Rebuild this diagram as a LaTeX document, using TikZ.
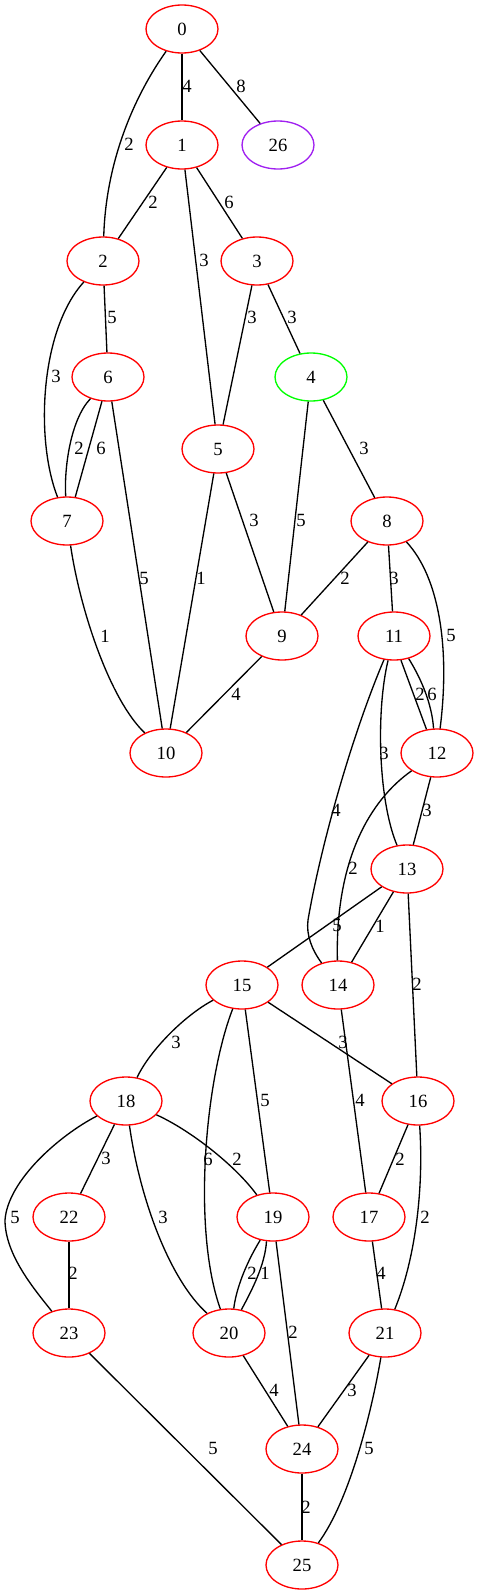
\documentclass[tikz,border=0pt]{standalone}
\usepackage{fontspec}
\setmainfont{Liberation Serif}
\usetikzlibrary{shapes.geometric}
\definecolor{gvred}{HTML}{FF0000}
\definecolor{gvgreen}{HTML}{00FF00}
\definecolor{gvpurple}{HTML}{A020F0}
\tikzset{
  vtx/.style={ellipse, draw=gvred, line width=1.33pt, minimum width=72pt, minimum height=48pt, inner sep=0pt, font=\fontsize{18.67}{20}\selectfont},
  lbl/.style={inner sep=0pt, font=\fontsize{18.67}{20}\selectfont},
  edge/.style={draw=black, line width=1.33pt}
}
\begin{document}
\begin{tikzpicture}[x=1pt,y=-1pt]
\useasboundingbox (0,0) rectangle (478,1595);
% nodes
\node[vtx] (n0) at (182,29) {0};
\node[vtx] (n1) at (182,145) {1};
\node[vtx, draw=gvpurple] (n26) at (278,145) {26};
\node[vtx] (n2) at (103,261) {2};
\node[vtx] (n3) at (257,261) {3};
\node[vtx] (n6) at (108,377) {6};
\node[vtx, draw=gvgreen] (n4) at (311,377) {4};
\node[vtx] (n5) at (218,449) {5};
\node[vtx] (n7) at (67,521) {7};
\node[vtx] (n8) at (387,521) {8};
\node[vtx] (n9) at (282,636) {9};
\node[vtx] (n11) at (394,636) {11};
\node[vtx] (n10) at (166,753) {10};
\node[vtx] (n12) at (437,753) {12};
\node[vtx] (n13) at (407,869) {13};
\node[vtx] (n15) at (242,985) {15};
\node[vtx] (n14) at (338,985) {14};
\node[vtx] (n18) at (126,1101) {18};
\node[vtx] (n16) at (418,1101) {16};
\node[vtx] (n22) at (69,1217) {22};
\node[vtx] (n19) at (273,1217) {19};
\node[vtx] (n17) at (369,1217) {17};
\node[vtx] (n23) at (69,1333) {23};
\node[vtx] (n20) at (229,1333) {20};
\node[vtx] (n21) at (385,1333) {21};
\node[vtx] (n24) at (302,1449) {24};
\node[vtx] (n25) at (302,1565) {25};
% edges
\draw[edge] (n0) -- (n1);
\draw[edge] (n0) -- (n26);
\draw[edge] (n0) .. controls (135,95) and (106,160) .. (n2);
\draw[edge] (n1) -- (n2);
\draw[edge] (n1) -- (n3);
\draw[edge] (n1) -- (n5);
\draw[edge] (n2) -- (n6);
\draw[edge] (n2) .. controls (40,330) and (35,440) .. (n7);
\draw[edge] (n3) -- (n5);
\draw[edge] (n3) -- (n4);
\draw[edge] (n6.231) .. controls (70,420) and (64,470) .. (n7.93);
\draw[edge] (n6.256) -- (n7.71);
\draw[edge] (n6) -- (n10);
\draw[edge] (n5) -- (n10);
\draw[edge] (n5) -- (n9);
\draw[edge] (n4) -- (n9);
\draw[edge] (n4) -- (n8);
\draw[edge] (n7) .. controls (80,610) and (110,700) .. (n10);
\draw[edge] (n8) -- (n9);
\draw[edge] (n8) -- (n11);
\draw[edge] (n8) .. controls (440,578) and (450,650) .. (n12);
\draw[edge] (n9) -- (n10);
\draw[edge] (n11.286) -- (n12.114);
\draw[edge] (n11.303) .. controls (422,680) and (432,705) .. (n12.98);
\draw[edge] (n11) .. controls (376,710) and (378,800) .. (n13);
\draw[edge] (n11) .. controls (350,740) and (320,850) .. (308,920) .. controls (306,935) and (312,950) .. (n14);
\draw[edge] (n12) -- (n13);
\draw[edge] (n12) .. controls (370,800) and (335,860) .. (n14);
\draw[edge] (n13) -- (n15);
\draw[edge] (n13) -- (n14);
\draw[edge] (n13) -- (n16);
\draw[edge] (n15) .. controls (185,1015) and (150,1050) .. (n18);
\draw[edge] (n15) .. controls (205,1080) and (192,1230) .. (n20);
\draw[edge] (n15) -- (n19);
\draw[edge] (n15) -- (n16);
\draw[edge] (n14) -- (n17);
\draw[edge] (n18) .. controls (60,1135) and (8,1180) .. (5,1220) .. controls (5,1255) and (35,1290) .. (n23);
\draw[edge] (n18) -- (n22);
\draw[edge] (n18) .. controls (140,1200) and (170,1280) .. (n20);
\draw[edge] (n18) .. controls (190,1130) and (235,1165) .. (n19);
\draw[edge] (n16) -- (n17);
\draw[edge] (n16) .. controls (424,1190) and (415,1260) .. (n21);
\draw[edge] (n22) -- (n23);
\draw[edge] (n19.241) .. controls (245,1265) and (236,1290) .. (n20.79);
\draw[edge] (n19.255) .. controls (265,1265) and (252,1290) .. (n20.62);
\draw[edge] (n19) -- (n24);
\draw[edge] (n17) -- (n21);
\draw[edge] (n20) -- (n24);
\draw[edge] (n21) -- (n24);
\draw[edge] (n21) .. controls (372,1410) and (350,1500) .. (n25);
\draw[edge] (n23) -- (n25);
\draw[edge] (n24) -- (n25);
% labels
\node[lbl] (l0-1) at (187,86) {4};
\node[lbl] (l0-26) at (241,86) {8};
\node[lbl] (l0-2) at (129,144) {2};
\node[lbl] (l1-2) at (153,202) {2};
\node[lbl] (l1-3) at (229,202) {6};
\node[lbl] (l1-5) at (204,260) {3};
\node[lbl] (l2-6) at (112,317) {5};
\node[lbl] (l3-5) at (252,317) {3};
\node[lbl] (l3-4) at (292,317) {3};
\node[lbl] (l2-7) at (56,376) {3};
\node[lbl] (l6-7a) at (79,448) {2};
\node[lbl] (l6-7b) at (101,448) {6};
\node[lbl] (l6-10) at (144,578) {5};
\node[lbl] (l5-10) at (201,578) {1};
\node[lbl] (l5-9) at (254,520) {3};
\node[lbl] (l4-9) at (301,520) {5};
\node[lbl] (l4-8) at (364,448) {3};
\node[lbl] (l7-10) at (105,636) {1};
\node[lbl] (l8-9) at (345,578) {2};
\node[lbl] (l8-11) at (394,578) {3};
\node[lbl] (l8-12) at (451,635) {5};
\node[lbl] (l9-10) at (236,694) {4};
\node[lbl] (l11-12a) at (420,694) {2};
\node[lbl] (l11-12b) at (432,694) {6};
\node[lbl] (l11-13) at (384,753) {3};
\node[lbl] (l11-14) at (336,810) {4};
\node[lbl] (l12-13) at (427,810) {3};
\node[lbl] (l12-14) at (353,868) {2};
\node[lbl] (l13-15) at (337,925) {5};
\node[lbl] (l13-14) at (380,926) {1};
\node[lbl] (l13-16) at (417,984) {2};
\node[lbl] (l15-18) at (176,1042) {3};
\node[lbl] (l15-20) at (208,1159) {6};
\node[lbl] (l15-19) at (265,1100) {5};
\node[lbl] (l15-16) at (343,1042) {3};
\node[lbl] (l14-17) at (360,1100) {4};
\node[lbl] (l18-23) at (15,1217) {5};
\node[lbl] (l18-22) at (106,1158) {3};
\node[lbl] (l18-20) at (163,1217) {3};
\node[lbl] (l18-19) at (237,1159) {2};
\node[lbl] (l16-17) at (400,1159) {2};
\node[lbl] (l16-21) at (425,1217) {2};
\node[lbl] (l22-23) at (73,1273) {2};
\node[lbl] (l19-20a) at (252,1273) {2};
\node[lbl] (l19-20b) at (265,1273) {1};
\node[lbl] (l19-24) at (293,1332) {2};
\node[lbl] (l17-21) at (381,1273) {4};
\node[lbl] (l20-24) at (274,1390) {4};
\node[lbl] (l21-24) at (352,1390) {3};
\node[lbl] (l21-25) at (369,1448) {5};
\node[lbl] (l23-25) at (213,1448) {5};
\node[lbl] (l24-25) at (306,1507) {2};
\end{tikzpicture}
\end{document}
